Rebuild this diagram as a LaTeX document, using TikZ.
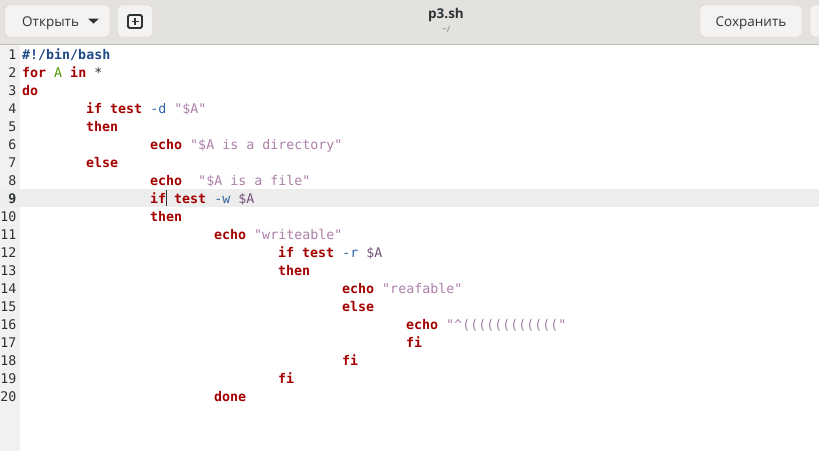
\documentclass[tikz,border=0pt]{standalone}
\usepackage{fontspec}
\setsansfont{Open Sans}
\newfontfamily\codefont{DejaVu Sans Mono}
\usetikzlibrary{positioning}

\definecolor{barbg}{HTML}{E4E2DF}
\definecolor{barline}{HTML}{C3BFBA}
\definecolor{btnbg}{HTML}{F4F3F2}
\definecolor{btnline}{HTML}{CFCAC5}
\definecolor{gutterbg}{HTML}{F2F1F0}
\definecolor{curline}{HTML}{EDEDED}
\definecolor{inkdark}{HTML}{2E3436}
\definecolor{kwred}{HTML}{A40000}
\definecolor{shebang}{HTML}{204A87}
\definecolor{vargreen}{HTML}{4E9A06}
\definecolor{optblue}{HTML}{3465A4}
\definecolor{strplum}{HTML}{AD7FA8}
\definecolor{varplum}{HTML}{75507B}

\newcommand{\kw}[1]{\textbf{\color{kwred}#1}}
\newcommand{\strg}[1]{{\color{strplum}#1}}
\newcommand{\opt}[1]{{\color{optblue}#1}}
\newcommand{\svar}[1]{{\color{varplum}#1}}

\begin{document}
\begin{tikzpicture}[x=1pt,y=-1pt,
            code/.style = {anchor=base west,inner sep=0pt,text=inkdark,
                font=\codefont\fontsize{13.3}{16}\selectfont},
            lnum/.style = {anchor=base east,inner sep=0pt,text=inkdark,
                font=\codefont\fontsize{13.3}{16}\selectfont},
            button/.style = {draw=btnline,fill=btnbg,rounded corners=4pt},
            uitext/.style = {inner sep=0pt,text=inkdark,
                font=\sffamily\fontsize{13.5}{16}\selectfont}]
            \useasboundingbox (0,0) rectangle (819,451);
            \fill[white] (0,0) rectangle (819,451);
            % header bar
            \fill[barbg] (0,0) rectangle (819,44);
            \draw[barline] (0,44) -- (819,44);
            \draw[button] (5,5) rectangle (110,37);
            \node[uitext,anchor=base west] (open) at (22,26.5) {Открыть};
            \fill[inkdark] (88,18.5) -- (99,18.5) -- (93.5,23.5) -- cycle;
            \draw[button] (117.5,5) rectangle (152.5,37);
            \draw[inkdark,line width=1.8pt,rounded corners=1.5pt] (128,15) rectangle (142,28);
            \draw[inkdark,line width=1.8pt] (131.5,21.5) -- (138.5,21.5) (135,18) -- (135,25);
            \node[uitext,anchor=base,font=\sffamily\bfseries\fontsize{13.5}{16}\selectfont] (title) at (446,18) {p3.sh};
            \node[uitext,below=4pt of title,text=gray,font=\sffamily\fontsize{9}{10}\selectfont] (path) {\textasciitilde/};
            \draw[button] (700,5) rectangle (802,37);
            \node[uitext,anchor=base] (save) at (751,26.5) {Сохранить};
            \draw[button] (810,5) rectangle (830,37);
            % gutter and current line
            \fill[gutterbg] (0,45) rectangle (20,451);
            \fill[curline] (0,189) rectangle (819,207);
            \draw[inkdark,line width=1pt] (166,190) -- (166,206);
            \foreach \n in {1,...,20}
                \node[lnum] (n\n) at (16.5,59+18*\n-18) {\ifnum\n=9 \textbf{\n}\else\n\fi};
            % code
            \node[code] (l1) at (22,59) {\textbf{\color{shebang}\#!/bin/bash}};
            \node[code] (l2) at (22,77) {\kw{for}\ {\color{vargreen}A}\ \kw{in}\ *};
            \node[code] (l3) at (22,95) {\kw{do}};
            \node[code] (l4) at (86,113) {\kw{if}\ \kw{test}\ \opt{-d}\ \strg{"\$A"}};
            \node[code] (l5) at (86,131) {\kw{then}};
            \node[code] (l6) at (150,149) {\kw{echo}\ \strg{"\$A\ is\ a\ directory"}};
            \node[code] (l7) at (86,167) {\kw{else}};
            \node[code] (l8) at (150,185) {\kw{echo}\ \ \strg{"\$A\ is\ a\ file"}};
            \node[code] (l9) at (150,203) {\kw{if}\ \kw{test}\ \opt{-w}\ \svar{\$A}};
            \node[code] (l10) at (150,221) {\kw{then}};
            \node[code] (l11) at (214,239) {\kw{echo}\ \strg{"writeable"}};
            \node[code] (l12) at (278,257) {\kw{if}\ \kw{test}\ \opt{-r}\ \svar{\$A}};
            \node[code] (l13) at (278,275) {\kw{then}};
            \node[code] (l14) at (342,293) {\kw{echo}\ \strg{"reafable"}};
            \node[code] (l15) at (342,311) {\kw{else}};
            \node[code] (l16) at (406,329) {\kw{echo}\ \strg{"\textasciicircum(((((((((((("}};
            \node[code] (l17) at (406,347) {\kw{fi}};
            \node[code] (l18) at (342,365) {\kw{fi}};
            \node[code] (l19) at (278,383) {\kw{fi}};
            \node[code] (l20) at (214,401) {\kw{done}};
\end{tikzpicture}
\end{document}
